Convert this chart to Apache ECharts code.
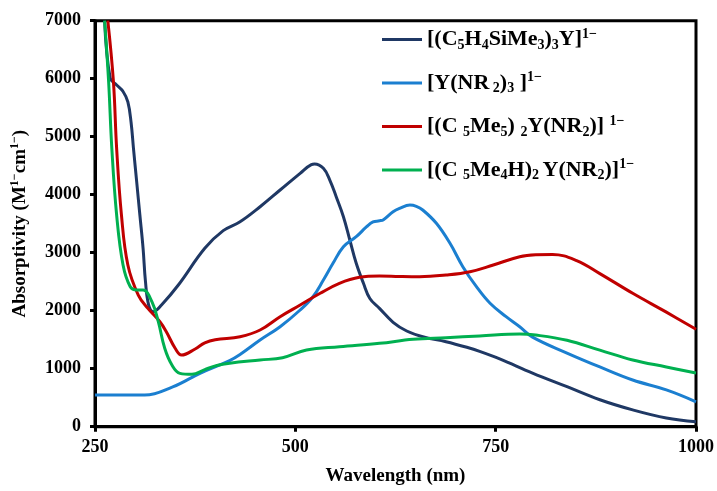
<!DOCTYPE html>
<html>
<head>
<meta charset="utf-8">
<script src="https://cdn.jsdelivr.net/npm/echarts@6/dist/echarts.min.js"></script>
<style>
html,body{margin:0;padding:0;background:#fff;}
#chart{width:717px;height:491px;}
</style>
</head>
<body>
<div id="chart"></div>
<script>
// ---- data ----
var seriesNames = ['[(C5H4SiMe3)3Y]1-', '[Y(NR2)3]1-', '[(C5Me5)2Y(NR2)]1-', '[(C5Me4H)2Y(NR2)]1-'];
var seriesColors = ['#1F3864', '#1B7FD0', '#C00000', '#00B050'];

var navyX = [262, 269, 277, 285, 291, 295, 298, 302, 306, 310, 313, 317, 323, 333, 354, 387, 410, 431, 456, 481, 506, 520, 524, 535, 543, 551, 560, 568, 576, 585, 593, 605, 622, 639, 659, 688, 714, 730, 755, 796, 839, 880, 921, 963, 1000];
var navyY = [7000, 6007, 5891, 5780, 5600, 5250, 4800, 4224, 3650, 3076, 2500, 2098, 1983, 2098, 2443, 3076, 3380, 3534, 3793, 4081, 4369, 4520, 4529, 4455, 4253, 3966, 3621, 3219, 2817, 2472, 2210, 2040, 1800, 1650, 1552, 1466, 1370, 1300, 1170, 925, 690, 465, 290, 150, 85];

var blueX = [250, 312, 347, 381, 418, 431, 456, 481, 506, 522, 535, 547, 560, 576, 589, 597, 605, 610, 622, 630, 643, 651, 659, 676, 693, 709, 726, 743, 763, 780, 796, 839, 880, 921, 963, 1000];
var blueY = [545, 545, 685, 920, 1140, 1245, 1494, 1724, 2012, 2241, 2529, 2817, 3103, 3276, 3448, 3530, 3550, 3570, 3707, 3764, 3822, 3800, 3736, 3507, 3162, 2759, 2414, 2128, 1897, 1724, 1545, 1270, 1030, 805, 635, 430];

var redX = [266, 273, 277, 283, 291, 304, 316, 331, 339, 350, 358, 375, 387, 400, 431, 456, 481, 506, 531, 555, 580, 605, 630, 655, 688, 718, 747, 780, 800, 821, 851, 880, 921, 963, 1000];
var redY = [7000, 5948, 4800, 3650, 2788, 2270, 2041, 1810, 1638, 1352, 1236, 1340, 1445, 1500, 1552, 1667, 1897, 2098, 2300, 2472, 2576, 2598, 2590, 2586, 2615, 2672, 2788, 2931, 2965, 2970, 2865, 2640, 2300, 1975, 1680];

var greenX = [262, 267, 271, 277, 285, 294, 302, 310, 321, 329, 337, 346, 356, 371, 387, 402, 418, 456, 484, 514, 555, 605, 647, 688, 730, 780, 800, 839, 880, 921, 963, 1000];
var greenY = [7000, 5948, 4800, 3650, 2788, 2414, 2357, 2357, 2155, 1810, 1352, 1064, 920, 903, 985, 1055, 1095, 1150, 1190, 1322, 1379, 1437, 1507, 1535, 1564, 1598, 1580, 1490, 1320, 1150, 1030, 925];

var xTicks = [250, 500, 750, 1000];
var yTicks = [0, 1000, 2000, 3000, 4000, 5000, 6000, 7000];

// rich-text legend labels
var legendRich = {
  '[(C5H4SiMe3)3Y]1-': '{n|[(C}{s|5}{n|H}{s|4}{n|SiMe}{s|3}{n|)}{s|3}{n|Y]}{p|1−}',
  '[Y(NR2)3]1-': '{n|[Y(NR}{s| 2}{n|)}{s|3}{n| ]}{p|1−}',
  '[(C5Me5)2Y(NR2)]1-': '{n|[(C }{s|5}{n|Me}{s|5}{n|) }{s|2}{n|Y(NR}{s|2}{n|)] }{p|1−}',
  '[(C5Me4H)2Y(NR2)]1-': '{n|[(C }{s|5}{n|Me}{s|4}{n|H)}{s|2 }{n|Y(NR}{s|2}{n|)]}{p|1−}'
};

function pairs(xs, ys) { return xs.map(function (x, i) { return [x, ys[i]]; }); }
var allX = [navyX, blueX, redX, greenX];
var allY = [navyY, blueY, redY, greenY];

var serif = 'Liberation Serif';
var chart = echarts.init(document.getElementById('chart'), null, {renderer: 'canvas'});
chart.setOption({
  animation: false,
  backgroundColor: '#fff',
  grid: {left: 95, right: 20.5, top: 20.7, bottom: 64.3, show: true, borderColor: '#000', borderWidth: 3, containLabel: false},
  legend: {
    orient: 'vertical', left: 382, top: 27, itemGap: 18.5, padding: 0,
    itemWidth: 40, itemHeight: 3, icon: 'rect',
    data: seriesNames,
    formatter: function (name) { return legendRich[name]; },
    textStyle: {
      color: '#000',
      rich: {
        n: {fontFamily: serif, fontWeight: 'bold', fontSize: 22, lineHeight: 25, verticalAlign: 'middle', color: '#000'},
        s: {fontFamily: serif, fontWeight: 'bold', fontSize: 14, lineHeight: 12, verticalAlign: 'bottom', color: '#000'},
        p: {fontFamily: serif, fontWeight: 'bold', fontSize: 14, lineHeight: 12, verticalAlign: 'top', color: '#000'}
      }
    }
  },
  xAxis: {
    type: 'value', min: 250, max: 1000, interval: 250,
    name: 'Wavelength (nm)', nameLocation: 'middle', nameGap: 40,
    nameTextStyle: {fontFamily: serif, fontWeight: 'bold', fontSize: 19, color: '#000'},
    axisLine: {show: true, lineStyle: {color: '#000', width: 3}},
    axisTick: {show: true, length: 5, lineStyle: {color: '#000', width: 3}},
    axisLabel: {margin: 12, fontFamily: serif, fontWeight: 'bold', fontSize: 18, color: '#000',
      formatter: function (v) { return xTicks.indexOf(v) >= 0 ? String(v) : ''; }},
    splitLine: {show: false}
  },
  yAxis: {
    type: 'value', min: 0, max: 7000, interval: 1000,
    name: '{n|Absorptivity (M}{p|1−}{n|cm}{p|1−}{n|)}', nameLocation: 'middle', nameGap: 64,
    nameTextStyle: {
      color: '#000',
      rich: {
        n: {fontFamily: serif, fontWeight: 'bold', fontSize: 19, lineHeight: 22, verticalAlign: 'middle', color: '#000'},
        p: {fontFamily: serif, fontWeight: 'bold', fontSize: 12, lineHeight: 11, verticalAlign: 'top', color: '#000'}
      }
    },
    axisLine: {show: true, lineStyle: {color: '#000', width: 3}},
    axisTick: {show: true, length: 5, lineStyle: {color: '#000', width: 3}},
    axisLabel: {margin: 14, fontFamily: serif, fontWeight: 'bold', fontSize: 18, color: '#000',
      formatter: function (v) { return yTicks.indexOf(v) >= 0 ? String(v) : ''; }},
    splitLine: {show: false}
  },
  series: seriesNames.map(function (nm, i) {
    return {
      name: nm, type: 'line', data: pairs(allX[i], allY[i]),
      smooth: 0.4, showSymbol: false, symbol: 'none', clip: true,
      lineStyle: {color: seriesColors[i], width: 3},
      itemStyle: {color: seriesColors[i]},
      z: 2 + i
    };
  })
});
</script>
</body>
</html>
